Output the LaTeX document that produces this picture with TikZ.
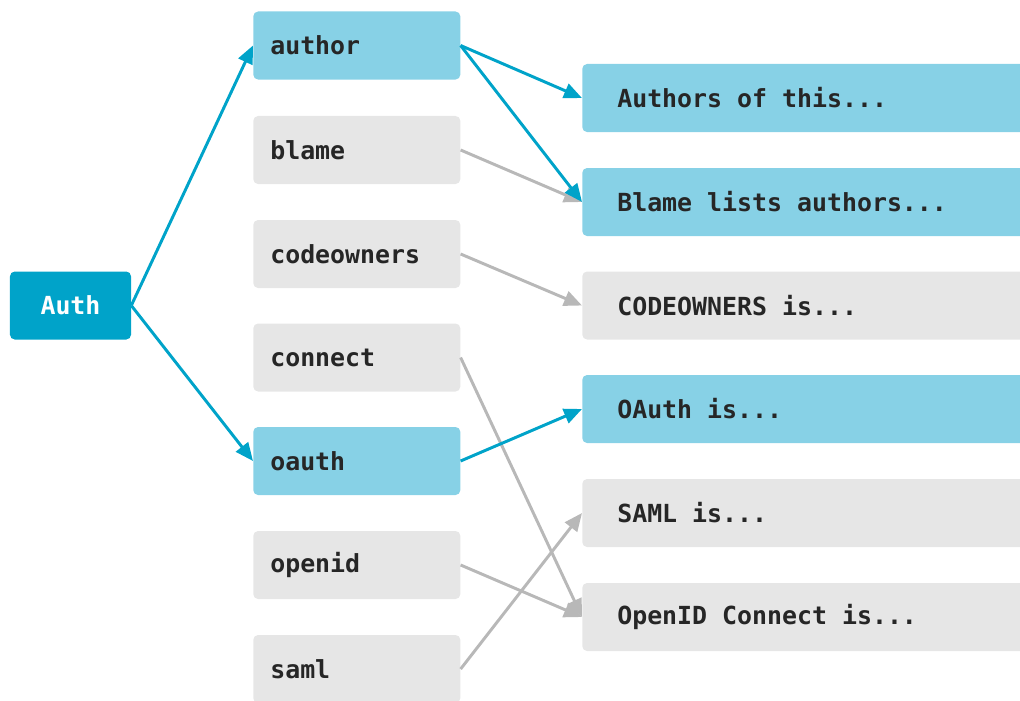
\documentclass[tikz,border=0pt]{standalone}
\usepackage{fontspec}
\setmonofont{DejaVu Sans Mono}
\usetikzlibrary{arrows.meta}
\definecolor{authblue}{HTML}{00A3C9}
\definecolor{lightblue}{HTML}{87D1E6}
\definecolor{boxgrey}{HTML}{E6E6E6}
\definecolor{arrowgrey}{HTML}{B8B8B8}
\definecolor{textdark}{HTML}{262626}
\newcommand\boxfont{\fontsize{17.7}{21}\selectfont\ttfamily\bfseries}

\begin{document}
\begin{tikzpicture}[x=0.025cm, y=-0.025cm,
    box/.style={rounded corners=0.12cm, minimum height=1.7cm, inner ysep=0pt,
      text=textdark, font=\boxfont,
      execute at begin node={\spaceskip=0.602em\relax}},
    cmd/.style={box, fill=boxgrey, anchor=west, text width=4.325cm,
      inner xsep=0.425cm, align=left},
    doc/.style={box, fill=boxgrey, anchor=west, text width=10.25cm,
      inner xsep=0.875cm, align=left},
    hit/.style={fill=lightblue},
    link/.style={-{Triangle[length=0.45cm,width=0.38cm]}, line width=2.1pt,
      draw=arrowgrey},
    hitlink/.style={link, draw=authblue}]
    \useasboundingbox (0,0) rectangle (1020,700);
    \clip (0,0) rectangle (1020,700);

    \node[box, fill=authblue, text=white, minimum width=3.025cm] (auth) at (70.5,305.5) {Auth};

    \node[cmd, hit] (author) at (253,45.5) {author};
    \node[cmd] (blame) at (253,150) {blame};
    \node[cmd] (codeowners) at (253,254) {codeowners};
    \node[cmd] (connect) at (253,357.5) {connect};
    \node[cmd, hit] (oauth) at (253,461) {oauth};
    \node[cmd] (openid) at (253,565) {openid};
    \node[cmd] (saml) at (253,669) {saml};

    \node[doc, hit] (authorsdoc) at (582,98) {Authors of this...};
    \node[doc, hit] (blamedoc) at (582,202) {Blame lists authors...};
    \node[doc] (codeownersdoc) at (582,305.5) {CODEOWNERS is...};
    \node[doc, hit] (oauthdoc) at (582,409) {OAuth is...};
    \node[doc] (samldoc) at (582,513) {SAML is...};
    \node[doc] (openiddoc) at (582,617) {OpenID Connect is...};

    % grey links first, blue ones on top
    \draw[link] (blame.east) -- (blamedoc.west);
    \draw[link] (codeowners.east) -- (codeownersdoc.west);
    \draw[link] (connect.east) -- (openiddoc.west);
    \draw[link] (openid.east) -- (openiddoc.west);
    \draw[link] (saml.east) -- (samldoc.west);

    \draw[hitlink] (auth.east) -- (author.west);
    \draw[hitlink] (auth.east) -- (oauth.west);
    \draw[hitlink] (author.east) -- (authorsdoc.west);
    \draw[hitlink] (author.east) -- (blamedoc.west);
    \draw[hitlink] (oauth.east) -- (oauthdoc.west);
\end{tikzpicture}
\end{document}
